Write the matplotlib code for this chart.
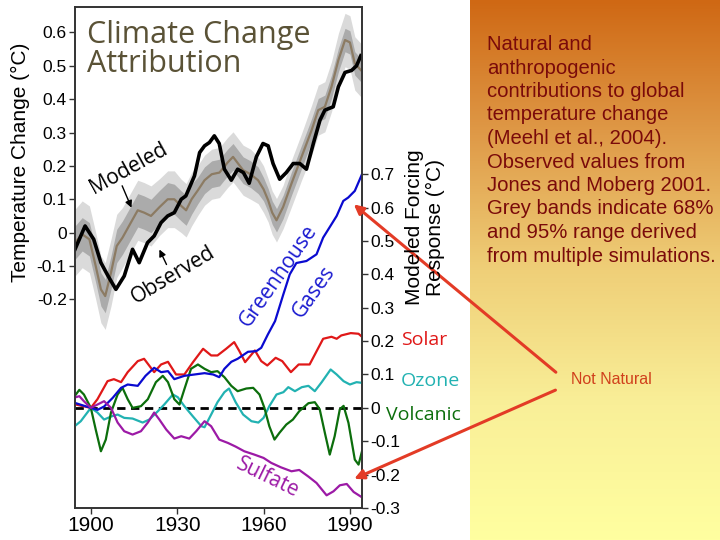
import numpy as np
import matplotlib
matplotlib.use("Agg")
import matplotlib.pyplot as plt
from matplotlib.colors import LinearSegmentedColormap

# observed temperature (Jones & Moberg), left axis
obs_years = [1894.5, 1898, 1901, 1903.5, 1906, 1908.7, 1911.6, 1914.5, 1916.8, 1919.7,
             1922, 1924.4, 1926.7, 1929, 1931.4, 1933, 1936, 1937.8, 1939.5, 1941.2,
             1942.9, 1944.6, 1946.4, 1948.8, 1951, 1953, 1955, 1957.5, 1959.8, 1961.6,
             1963.3, 1965.6, 1967.9, 1970.3, 1972.6, 1974.9, 1977.3, 1979.6, 1981.3, 1984.2,
             1986, 1988.3, 1990.6, 1992.3, 1993.8]
obs = [-0.05, 0.02, -0.02, -0.09, -0.13, -0.17, -0.13, -0.05, -0.09, -0.03,
       -0.01, 0.03, 0.05, 0.06, 0.1, 0.11, 0.17, 0.24, 0.26, 0.27,
       0.29, 0.267, 0.19, 0.157, 0.19, 0.18, 0.148, 0.227, 0.267, 0.26,
       0.207, 0.16, 0.18, 0.207, 0.207, 0.19, 0.267, 0.337, 0.367, 0.377,
       0.437, 0.48, 0.486, 0.5, 0.53]

# modeled mean with 68% / 95% half widths
mod_years = [1894.5, 1897, 1899.5, 1901.7, 1903.5, 1905, 1907, 1909, 1911, 1913.9,
             1916.3, 1918.5, 1920.9, 1923.8, 1926.7, 1929, 1931.4, 1933.1, 1935, 1937.2,
             1939.5, 1942, 1944.7, 1947.5, 1949.4, 1952.9, 1955.5, 1958.1, 1960, 1961.6,
             1963, 1964.5, 1966.8, 1969.7, 1973.2, 1976.7, 1979, 1981.3, 1983.6, 1986,
             1988.3, 1990, 1991.7, 1993.8]
mod = [-0.03, -0.005, -0.02, -0.1, -0.17, -0.19, -0.12, -0.04, -0.015, 0.03,
       0.067, 0.06, 0.05, 0.076, 0.1, 0.1, 0.08, 0.067, 0.1, 0.127,
       0.157, 0.175, 0.18, 0.21, 0.227, 0.187, 0.175, 0.157, 0.13, 0.097,
       0.06, 0.037, 0.077, 0.147, 0.227, 0.307, 0.367, 0.377, 0.437, 0.517,
       0.577, 0.57, 0.507, 0.487]
inner_hw = [0.05, 0.05, 0.05, 0.05, 0.05, 0.05, 0.05, 0.05, 0.05, 0.05,
            0.05, 0.05, 0.05, 0.05, 0.05, 0.045, 0.045, 0.045, 0.045, 0.04,
            0.04, 0.04, 0.04, 0.04, 0.04, 0.04, 0.04, 0.04, 0.035, 0.035,
            0.035, 0.035, 0.035, 0.035, 0.035, 0.035, 0.035, 0.035, 0.035, 0.035,
            0.035, 0.035, 0.035, 0.035]
outer_hw = [0.1, 0.1, 0.1, 0.1, 0.1, 0.1, 0.1, 0.095, 0.09, 0.09,
            0.09, 0.09, 0.09, 0.085, 0.085, 0.085, 0.08, 0.08, 0.08, 0.075,
            0.075, 0.075, 0.075, 0.075, 0.075, 0.075, 0.075, 0.07, 0.07, 0.065,
            0.065, 0.065, 0.065, 0.07, 0.07, 0.075, 0.075, 0.075, 0.075, 0.08,
            0.08, 0.08, 0.08, 0.08]

# forcing responses, right axis
ghg_years = [1894.8, 1897, 1900, 1902.3, 1904.6, 1907.6, 1910.5, 1912.8, 1916.3, 1919,
             1922, 1924.4, 1926.8, 1929, 1932.5, 1936, 1939.5, 1942.5, 1944.6, 1946.4,
             1948.8, 1951, 1954.6, 1957.5, 1959.2, 1961.5, 1964, 1966.8, 1969.1, 1971.4,
             1974.9, 1978.4, 1980.7, 1983.6, 1985.4, 1987.7, 1989.4, 1991.7, 1994.2]
ghg = [0.014, 0.008, 0.0, -0.006, 0.004, 0.03, 0.06, 0.07, 0.066, 0.096,
       0.12, 0.107, 0.11, 0.086, 0.096, 0.1, 0.104, 0.1, 0.092, 0.117,
       0.138, 0.147, 0.168, 0.17, 0.18, 0.22, 0.26, 0.338, 0.4, 0.434,
       0.44, 0.46, 0.51, 0.55, 0.575, 0.62, 0.63, 0.65, 0.7]

sol_years = [1894.8, 1900, 1902.3, 1905.8, 1908, 1910.5, 1912.8, 1916.3, 1918.5, 1922,
             1924.4, 1926.8, 1929.6, 1932.5, 1935.5, 1939, 1941.8, 1944, 1947, 1949.8,
             1951.6, 1953.6, 1957, 1959.2, 1961.3, 1964.2, 1966.5, 1969.5, 1972.2, 1976,
             1980.7, 1983.6, 1985.4, 1987, 1990.3, 1993, 1994.2]
sol = [0.01, 0.0, 0.026, 0.08, 0.086, 0.077, 0.107, 0.14, 0.147, 0.107,
       0.13, 0.138, 0.1, 0.1, 0.137, 0.177, 0.157, 0.157, 0.177, 0.197,
       0.17, 0.137, 0.172, 0.14, 0.127, 0.15, 0.14, 0.107, 0.13, 0.13,
       0.207, 0.213, 0.207, 0.217, 0.224, 0.222, 0.213]

vol_years = [1894.8, 1896, 1897.6, 1900, 1901.7, 1903.5, 1905.2, 1907, 1909.3, 1911,
             1912.8, 1914.5, 1917.4, 1919.8, 1922.6, 1925, 1926.8, 1929, 1930.8, 1932.5,
             1934.8, 1937.2, 1939.5, 1941.8, 1944, 1946.4, 1948.8, 1951, 1954, 1956.4,
             1958.6, 1960.3, 1962, 1963.8, 1965.5, 1967.9, 1970.2, 1972.4, 1975.6, 1977.8,
             1979.5, 1981.3, 1983, 1984.7, 1986.5, 1987.8, 1989.5, 1991.7, 1993, 1994.2]
vol = [0.04, 0.054, 0.04, 0.0, -0.065, -0.13, -0.095, -0.014, 0.04, 0.06,
       0.026, 0.0, 0.005, 0.026, 0.077, 0.096, 0.077, 0.026, 0.01, 0.056,
       0.117, 0.13, 0.117, 0.107, 0.11, 0.092, 0.066, 0.05, 0.058, 0.06,
       0.04, 0.0, -0.055, -0.095, -0.075, -0.05, -0.035, -0.01, 0.014, 0.017,
       -0.004, -0.075, -0.14, -0.085, -0.004, 0.006, -0.045, -0.155, -0.17, -0.13]

ozo_years = [1894.8, 1896.5, 1900, 1902.3, 1904.6, 1907, 1909.3, 1911.6, 1914.5, 1918,
             1920.3, 1923.3, 1925.5, 1928.5, 1930.2, 1932.5, 1935.5, 1938.4, 1939.5, 1941.8,
             1944, 1946.4, 1948, 1950.3, 1952.9, 1955.8, 1958.2, 1960, 1962, 1964.5,
             1966.9, 1968.6, 1970.9, 1973.3, 1975.6, 1977.8, 1980.2, 1983.3, 1985.4, 1987.8,
             1990, 1992.3, 1994.2]
ozo = [-0.052, -0.04, 0.0, -0.014, -0.035, -0.026, -0.02, -0.03, -0.032, -0.044,
       -0.035, -0.01, 0.01, 0.04, 0.032, 0.005, -0.026, -0.055, -0.058, -0.02,
       0.017, 0.047, 0.058, 0.017, -0.02, -0.04, -0.044, -0.03, 0.005, 0.04,
       0.047, 0.062, 0.05, 0.062, 0.066, 0.05, 0.077, 0.115, 0.1, 0.08,
       0.07, 0.077, 0.075]

sul_years = [1894.8, 1896, 1897.6, 1900, 1902.3, 1904.6, 1907, 1909.3, 1911.6, 1914.5,
             1917.4, 1919.8, 1922, 1923.8, 1926.2, 1929, 1931.4, 1934.2, 1936.6, 1939.5,
             1941.8, 1944.6, 1947.6, 1950.3, 1953.3, 1956.8, 1960, 1962.7, 1966, 1969.7,
             1972.4, 1975.6, 1978.4, 1981.9, 1984.3, 1986.5, 1988.9, 1991.3, 1994.2]
sul = [0.032, 0.035, 0.02, 0.0, 0.01, 0.02, 0.0, -0.044, -0.07, -0.08,
       -0.07, -0.044, -0.014, -0.035, -0.065, -0.092, -0.085, -0.092, -0.07, -0.04,
       -0.055, -0.095, -0.105, -0.116, -0.13, -0.14, -0.15, -0.165, -0.178, -0.19,
       -0.186, -0.206, -0.225, -0.262, -0.25, -0.232, -0.228, -0.252, -0.268]

left_ticks = [-0.2, -0.1, 0, 0.1, 0.2, 0.3, 0.4, 0.5, 0.6]
right_ticks = [-0.3, -0.2, -0.1, 0, 0.1, 0.2, 0.3, 0.4, 0.5, 0.6, 0.7]
year_ticks = [1900, 1930, 1960, 1990]

caption = ("Natural and\nanthropogenic\ncontributions to global\ntemperature change\n"
           "(Meehl et al., 2004).\nObserved values from\nJones and Moberg 2001.\n"
           "Grey bands indicate 68%\nand 95% range derived\nfrom multiple simulations.")

def fmt(v):
    return "0" if v == 0 else f"{v:.1f}"

fig = plt.figure(figsize=(7.2, 5.4), dpi=100)

# orange gradient panel on the right
bg = fig.add_axes([470/720, 0, 250/720, 1], zorder=0)
cmap = LinearSegmentedColormap.from_list("pnl", [(0.0, "#cf6814"), (0.25, "#df9a48"),
                                                 (0.5, "#efcf78"), (0.75, "#f9ef98"),
                                                 (1.0, "#ffffa0")])
bg.imshow(np.linspace(0, 1, 256).reshape(-1, 1), aspect="auto", cmap=cmap,
          extent=[0, 1, 0, 1], origin="upper")
bg.axis("off")

ax = fig.add_axes([75/720, 32/540, 287/720, 501/540], zorder=2)
ax.set_xlim(1894.5, 1994.2)
ax.set_ylim(-0.825, 0.676)
mod_a = np.array(mod)
ax.fill_between(mod_years, mod_a - np.array(outer_hw), mod_a + np.array(outer_hw),
                color="#dadada", lw=0)
ax.fill_between(mod_years, mod_a - np.array(inner_hw), mod_a + np.array(inner_hw),
                color="#ababab", lw=0)
ax.plot(mod_years, mod, color="#8c7b63", lw=1.6)
ax.plot(obs_years, obs, color="black", lw=2.6)

ax2 = ax.twinx()
ax2.set_ylim(-0.3, 1.201)
ax2.axhline(0, color="black", lw=2, ls=(0, (3, 2)))
ax2.plot(sol_years, sol, color="#e01818", lw=1.6)
ax2.plot(ozo_years, ozo, color="#22b2b2", lw=1.6)
ax2.plot(vol_years, vol, color="#0c6e0c", lw=1.6)
ax2.plot(ghg_years, ghg, color="#0a0ad0", lw=1.6)
ax2.plot(sul_years, sul, color="#9c1aa6", lw=1.6)

tick_font = {"family": "Liberation Sans", "size": 12.5}
ax.set_yticks(left_ticks)
ax.set_yticklabels([fmt(v) for v in left_ticks], **tick_font)
ax2.set_yticks(right_ticks)
ax2.set_yticklabels([fmt(v) for v in right_ticks], **tick_font)
ax.set_xticks(year_ticks)
ax.set_xticklabels([str(y) for y in year_ticks], family="Liberation Sans", size=15)
for a in (ax, ax2):
    a.tick_params(length=4, width=1, pad=2, color="#333333")
    for s in a.spines.values():
        s.set_color("#333333")
        s.set_linewidth(1.2)

fig.text(20/720, 1 - 162/540, "Temperature Change (\u00b0C)", rotation=90,
         ha="center", va="center", fontsize=15, family="Liberation Sans")
fig.text(425/720, 1 - 227/540, "Modeled Forcing\nResponse (\u00b0C)", rotation=90,
         ha="center", va="center", fontsize=15, family="Liberation Sans",
         linespacing=1.1, multialignment="center")

ax.text(1898.8, 0.548, "Climate Change\nAttribution", ha="left", va="center",
        fontsize=22, family="Open Sans", color="#5a5236", linespacing=0.98)

lab = {"family": "Open Sans", "fontsize": 15, "ha": "center", "va": "center"}
ax.text(1913.2, 0.193, "Modeled", rotation=29, **lab)
ax.text(1928.6, -0.128, "Observed", rotation=31, **lab)
arr = dict(arrowstyle="-|>", color="black", lw=1, mutation_scale=10)
ax.annotate("", xy=(1914.5, 0.067), xytext=(1910.5, 0.148), arrowprops=arr)
ax.annotate("", xy=(1923.4, -0.043), xytext=(1926.7, -0.103), arrowprops=arr)

ax2.text(1965.2, 0.395, "Greenhouse", rotation=55, color="#1a1ad0", **lab)
ax2.text(1977.4, 0.346, "Gases", rotation=55, color="#1a1ad0", **lab)
ax2.text(1961.3, -0.21, "Sulfate", rotation=-26, color="#9c1aa6", **lab)

side = {"family": "Open Sans", "fontsize": 14, "ha": "left", "va": "center"}
fig.text(401/720, 1 - 340/540, "Solar", color="#e01818", **side)
fig.text(401/720, 1 - 381/540, "Ozone", color="#22b2b2", **side)
fig.text(386/720, 1 - 415/540, "Volcanic", color="#0c6e0c", **side)

fig.text(487/720, 1 - 35/540, caption, ha="left", va="top", fontsize=14.6,
         family="Liberation Sans", color="#7a0a0a", linespacing=1.30)
fig.text(571/720, 1 - 380/540, "Not Natural", ha="left", va="center", fontsize=11.5,
         family="Liberation Sans", color="#d0401c")

red = dict(arrowstyle="-|>", color="#e33b26", lw=2.2, mutation_scale=14)
ax2.annotate("", xy=(1990.6, 0.615), xytext=(558/720, 1 - 374/540),
             textcoords="figure fraction", arrowprops=red, annotation_clip=False)
ax2.annotate("", xy=(1990.6, -0.216), xytext=(558/720, 1 - 389/540),
             textcoords="figure fraction", arrowprops=red, annotation_clip=False)

fig.savefig("out.png", dpi=100)
